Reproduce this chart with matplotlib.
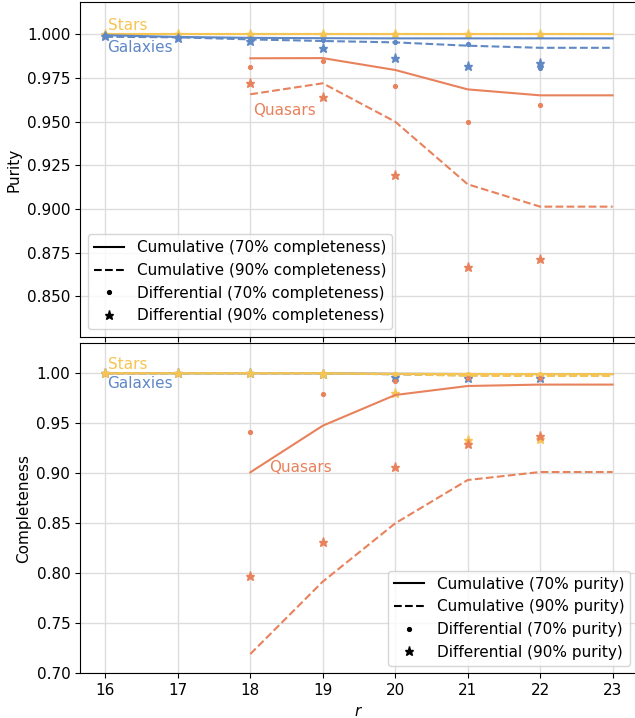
import numpy as np
import matplotlib
matplotlib.use("Agg")
import matplotlib.pyplot as plt
from matplotlib.lines import Line2D

# magnitude bins
r_cum = [16, 17, 18, 19, 20, 21, 22, 23]
r_diff = [16, 17, 18, 19, 20, 21, 22]
r_qso_cum = [18, 19, 20, 21, 22, 23]
r_qso_diff = [18, 19, 20, 21, 22]

# purity: cumulative / differential at 70% and 90% completeness
pur_star_c70 = [1.0, 1.0, 1.0, 1.0, 1.0, 1.0, 1.0, 1.0]
pur_star_c90 = [1.0, 1.0, 1.0, 1.0, 1.0, 1.0, 1.0, 1.0]
pur_star_d70 = [1.0, 1.0, 1.0, 1.0, 1.0, 1.0, 1.0]
pur_star_d90 = [1.0, 1.0, 1.0, 1.0, 1.0, 1.0, 1.0]
pur_gal_c70 = [0.9995, 0.9985, 0.998, 0.9978, 0.9977, 0.9977, 0.9977, 0.9977]
pur_gal_c90 = [0.9986, 0.9983, 0.9971, 0.9962, 0.9954, 0.9935, 0.9923, 0.9923]
pur_gal_d70 = [0.9995, 0.9985, 0.997, 0.9967, 0.9954, 0.9943, 0.9805]
pur_gal_d90 = [0.999, 0.9977, 0.9963, 0.9923, 0.9863, 0.9819, 0.9838]
pur_qso_c70 = [0.9863, 0.9864, 0.9796, 0.9685, 0.9651, 0.9651]
pur_qso_c90 = [0.9657, 0.972, 0.950, 0.9142, 0.9014, 0.9014]
pur_qso_d70 = [0.9815, 0.9847, 0.9704, 0.950, 0.9596]
pur_qso_d90 = [0.972, 0.9641, 0.9195, 0.8667, 0.8713]

# completeness: cumulative / differential at 70% and 90% purity
com_star_c70 = [1.0, 1.0, 1.0, 1.0, 0.9995, 0.9993, 0.9992, 0.9992]
com_star_c90 = [1.0, 1.0, 1.0, 1.0, 0.999, 0.9975, 0.9973, 0.9973]
com_star_d70 = [1.0, 1.0, 1.0, 1.0, 0.999, 0.999, 0.999]
com_star_d90 = [1.0, 1.0, 1.0, 0.999, 0.98, 0.933, 0.934]
com_gal_c70 = [1.0, 1.0, 1.0, 1.0, 0.9995, 0.9993, 0.9992, 0.9992]
com_gal_c90 = [1.0, 1.0, 1.0, 1.0, 0.999, 0.998, 0.998, 0.998]
com_gal_d70 = [1.0, 1.0, 1.0, 0.9995, 0.994, 0.995, 0.995]
com_gal_d90 = [1.0, 1.0, 1.0, 0.9995, 0.9963, 0.995, 0.995]
com_qso_c70 = [0.901, 0.9476, 0.9783, 0.9873, 0.9887, 0.9887]
com_qso_c90 = [0.7193, 0.7917, 0.850, 0.8933, 0.9013, 0.9013]
com_qso_d70 = [0.9417, 0.979, 0.9927, 0.995, 0.995]
com_qso_d90 = [0.7977, 0.8317, 0.906, 0.9293, 0.9373]

c_star = "#f6c452"
c_gal = "#5f88c4"
c_qso = "#e8825c"

plt.rcParams["font.size"] = 11

fig = plt.figure(figsize=(6.35, 7.18), dpi=100)
ax1 = fig.add_axes([0.126, 0.5306, 0.8787, 0.4666])
ax2 = fig.add_axes([0.126, 0.0622, 0.8787, 0.4601])


def draw_class(ax, x_cum, x_diff, c70, c90, d70, d90, color):
    ax.plot(x_cum, c70, "-", color=color, lw=1.5)
    ax.plot(x_cum, c90, "--", color=color, lw=1.5)
    ax.plot(x_diff, d70, ".", color=color, ms=5.5)
    ax.plot(x_diff, d90, "*", color=color, ms=6.5)


draw_class(ax1, r_cum, r_diff, pur_star_c70, pur_star_c90,
           pur_star_d70, pur_star_d90, c_star)
draw_class(ax1, r_cum, r_diff, pur_gal_c70, pur_gal_c90,
           pur_gal_d70, pur_gal_d90, c_gal)
draw_class(ax1, r_qso_cum, r_qso_diff, pur_qso_c70, pur_qso_c90,
           pur_qso_d70, pur_qso_d90, c_qso)

draw_class(ax2, r_cum, r_diff, com_gal_c70, com_gal_c90,
           com_gal_d70, com_gal_d90, c_gal)
draw_class(ax2, r_cum, r_diff, com_star_c70, com_star_c90,
           com_star_d70, com_star_d90, c_star)
draw_class(ax2, r_qso_cum, r_qso_diff, com_qso_c70, com_qso_c90,
           com_qso_d70, com_qso_d90, c_qso)

ax1.text(16.03, 1.0025, "Stars", color=c_star, va="baseline")
ax1.text(16.03, 0.9897, "Galaxies", color=c_gal, va="baseline")
ax1.text(18.04, 0.9538, "Quasars", color=c_qso, va="baseline")
ax2.text(16.03, 1.0043, "Stars", color=c_star, va="baseline")
ax2.text(16.03, 0.985, "Galaxies", color=c_gal, va="baseline")
ax2.text(18.26, 0.9016, "Quasars", color=c_qso, va="baseline")

for ax in (ax1, ax2):
    ax.set_xlim(15.65, 23.35)
    ax.set_xticks(r_cum)
    ax.grid(True, color="#dddddd", lw=1)
    ax.set_axisbelow(True)

ax1.set_ylim(0.8268, 1.0185)
ax1.set_yticks(np.arange(0.85, 1.0001, 0.025))
ax1.set_yticklabels([f"{v:.3f}" for v in np.arange(0.85, 1.0001, 0.025)])
ax1.tick_params(labelbottom=False)
ax1.set_ylabel("Purity")

ax2.set_ylim(0.70, 1.0303)
ax2.set_yticks(np.arange(0.70, 1.0001, 0.05))
ax2.set_yticklabels([f"{v:.2f}" for v in np.arange(0.70, 1.0001, 0.05)])
ax2.set_ylabel("Completeness")
ax2.set_xlabel("$r$")


def legend_handles(what):
    return [
        Line2D([], [], color="k", ls="-", lw=1.5, label=f"Cumulative (70% {what})"),
        Line2D([], [], color="k", ls="--", lw=1.5, label=f"Cumulative (90% {what})"),
        Line2D([], [], color="k", ls="", marker=".", ms=5.5, label=f"Differential (70% {what})"),
        Line2D([], [], color="k", ls="", marker="*", ms=6.5, label=f"Differential (90% {what})"),
    ]


ax1.legend(handles=legend_handles("completeness"), loc="lower left")
ax2.legend(handles=legend_handles("purity"), loc="lower right")

fig.savefig("out.png", dpi=100)
